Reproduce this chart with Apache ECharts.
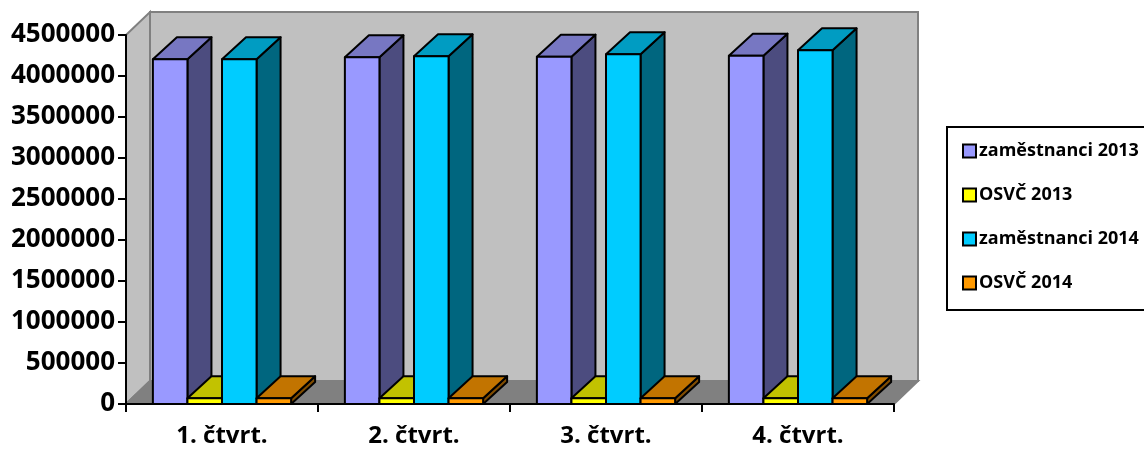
<!DOCTYPE html>
<html>
<head>
<meta charset="utf-8">
<script src="https://cdn.jsdelivr.net/npm/echarts@6/dist/echarts.min.js"></script>
<style>
html,body{margin:0;padding:0;background:#fff;}
#chart{width:1144px;height:449px;}
</style>
</head>
<body>
<div id="chart"></div>
<script>
// ---- data ----
const categories = ['1. čtvrt.', '2. čtvrt.', '3. čtvrt.', '4. čtvrt.'];
const seriesNames = ['zaměstnanci 2013', 'OSVČ 2013', 'zaměstnanci 2014', 'OSVČ 2014'];
const zam2013 = [4204000, 4228000, 4236000, 4248000];
const osvc2013 = [70000, 70000, 70000, 70000];
const zam2014 = [4204000, 4240000, 4265000, 4313000];
const osvc2014 = [70000, 70000, 70000, 70000];
const yTicks = [0, 500000, 1000000, 1500000, 2000000, 2500000, 3000000, 3500000, 4000000, 4500000];

// ---- styles ----
const faceColors = [
  { front: '#9999FF', side: '#4C4C7F', top: '#7777C2' },
  { front: '#FFFF00', side: '#808000', top: '#C2C200' },
  { front: '#00CCFF', side: '#00667F', top: '#009CC2' },
  { front: '#FF9900', side: '#804C00', top: '#C27400' }
];
const DEPTH_X = 24, DEPTH_Y = -23;
const BAR_FRAC = 0.18;
const FONT = '"Open Sans", Lato, sans-serif';

const chart = echarts.init(document.getElementById('chart'));

function wallsRender(params, api) {
  const cs = params.coordSys;
  const x = cs.x, y = cs.y, w = cs.width, h = cs.height;
  const dx = DEPTH_X, dy = DEPTH_Y;
  const stroke = { stroke: '#808080', lineWidth: 2 };
  return {
    type: 'group',
    children: [
      { type: 'rect', shape: { x: x + dx, y: y + dy, width: w, height: h },
        style: Object.assign({ fill: '#C0C0C0' }, stroke) },
      { type: 'polygon', shape: { points: [[x, y], [x + dx, y + dy], [x + dx, y + h + dy], [x, y + h]] },
        style: Object.assign({ fill: '#C0C0C0' }, stroke) },
      { type: 'polygon', shape: { points: [[x, y + h], [x + dx, y + h + dy], [x + w + dx, y + h + dy], [x + w, y + h]] },
        style: Object.assign({ fill: '#808080' }, stroke) }
    ]
  };
}

function makeBarRender(k) {
  return function (params, api) {
    const cat = api.value(0);
    const val = api.value(1);
    const top = api.coord([cat, val]);
    const base = api.coord([cat, 0]);
    const band = api.size([1, 0])[0];
    const bw = band * BAR_FRAC;
    const x0 = top[0] - 2 * bw + k * bw;
    const yt = top[1], yb = base[1];
    const dx = DEPTH_X, dy = DEPTH_Y + 1;
    const c = faceColors[k];
    const st = { stroke: '#000', lineWidth: 2, lineJoin: 'round' };
    return {
      type: 'group',
      children: [
        { type: 'polygon', shape: { points: [[x0 + bw, yb], [x0 + bw, yt], [x0 + bw + dx, yt + dy], [x0 + bw + dx, yb + dy]] },
          style: Object.assign({ fill: c.side }, st) },
        { type: 'polygon', shape: { points: [[x0, yt], [x0 + bw, yt], [x0 + bw + dx, yt + dy], [x0 + dx, yt + dy]] },
          style: Object.assign({ fill: c.top }, st) },
        { type: 'rect', shape: { x: x0, y: yt, width: bw, height: yb - yt },
          style: Object.assign({ fill: c.front }, st) }
      ]
    };
  };
}

const valueSets = [zam2013, osvc2013, zam2014, osvc2014];
const series = [{
  type: 'custom',
  name: '_walls',
  silent: true,
  renderItem: wallsRender,
  data: [[0, 0]],
  z: 1
}];
valueSets.forEach(function (vals, k) {
  series.push({
    type: 'custom',
    name: seriesNames[k],
    renderItem: makeBarRender(k),
    itemStyle: { color: faceColors[k].front, borderColor: '#000', borderWidth: 2 },
    data: vals.map(function (v, i) { return [i, v]; }),
    z: 2 + k
  });
});

chart.setOption({
  animation: false,
  backgroundColor: '#fff',
  grid: { left: 126, top: 35, width: 768, height: 369, containLabel: false },
  legend: {
    orient: 'vertical',
    left: 947,
    top: 127,
    data: seriesNames,
    icon: 'rect',
    itemWidth: 13,
    itemHeight: 13,
    itemGap: 26,
    padding: [15, 90, 18, 15],
    borderColor: '#000',
    borderWidth: 2,
    borderRadius: 0,
    backgroundColor: '#fff',
    itemStyle: { borderColor: '#000', borderWidth: 2 },
    textStyle: { fontFamily: FONT, fontWeight: 'bold', fontSize: 18, lineHeight: 16, color: '#000', padding: [0, 0, 0, -2] }
  },
  xAxis: {
    type: 'category',
    data: categories,
    axisLine: { show: true, lineStyle: { color: '#000', width: 2 }, onZero: false },
    axisTick: { show: true, length: 8, lineStyle: { color: '#000', width: 2 } },
    axisLabel: { margin: 20, fontFamily: FONT, fontWeight: 'bold', fontSize: 24, color: '#000' },
    splitLine: { show: false },
    z: 10
  },
  yAxis: {
    type: 'value',
    min: yTicks[0],
    max: yTicks[yTicks.length - 1],
    interval: yTicks[1] - yTicks[0],
    axisLine: { show: true, lineStyle: { color: '#000', width: 2 } },
    axisTick: { show: true, length: 8, lineStyle: { color: '#000', width: 2 } },
    axisLabel: { margin: 11, fontFamily: FONT, fontWeight: 'bold', fontSize: 26, color: '#000',
      formatter: function (v) { return String(v); } },
    splitLine: { show: false },
    z: 10
  },
  series: series
});
</script>
</body>
</html>
